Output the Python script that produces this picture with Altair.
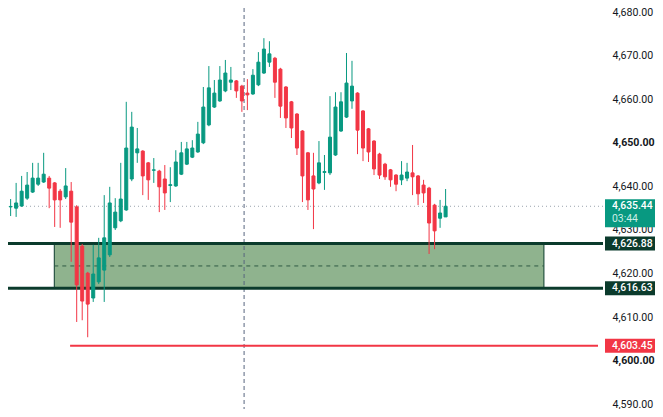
import altair as alt
import pandas as pd

# ---- candle data ----
opens = [4634.1, 4635.3, 4635.0, 4635.5, 4637.3, 4638.7, 4640.5, 4641.0, 4641.9, 4640.8,
         4638.9, 4637.6, 4638.9, 4635.3, 4626.3, 4620.1, 4614.4, 4618.1, 4620.8, 4624.3,
         4630.5, 4632.1, 4634.6, 4641.7, 4647.7, 4648.1, 4645.4, 4643.7, 4643.5, 4641.7,
         4640.2, 4640.1, 4642.8, 4645.1, 4646.7, 4647.9, 4650.0, 4654.1, 4658.2, 4659.6,
         4661.9, 4663.9, 4664.2, 4663.0, 4661.4, 4661.2, 4663.3, 4666.0, 4668.5, 4669.4,
         4666.9, 4662.8, 4659.4, 4656.6, 4652.7, 4647.7, 4642.4, 4640.8, 4643.2, 4643.1,
         4647.2, 4652.7, 4655.9, 4659.6, 4661.4, 4657.3, 4653.2, 4650.4, 4647.4, 4645.1,
         4643.8, 4642.6, 4641.5, 4641.9, 4643.1, 4642.4, 4640.3, 4639.6, 4635.7, 4632.7,
         4633.0]
highs = [4639.2, 4637.1, 4640.8, 4642.4, 4643.3, 4645.4, 4645.4, 4647.7, 4642.4, 4641.0,
         4639.4, 4644.2, 4641.0, 4635.7, 4626.8, 4620.4, 4626.6, 4628.2, 4638.0, 4639.9,
         4637.3, 4645.4, 4659.4, 4657.1, 4653.4, 4648.3, 4645.6, 4646.5, 4643.8, 4644.9,
         4644.4, 4648.3, 4650.2, 4650.2, 4650.6, 4654.8, 4662.8, 4667.6, 4664.4, 4667.6,
         4669.0, 4667.4, 4664.4, 4663.3, 4664.6, 4666.9, 4670.8, 4674.0, 4673.3, 4669.7,
         4667.2, 4663.0, 4659.6, 4656.8, 4652.9, 4647.9, 4647.7, 4650.4, 4647.2, 4660.7,
         4661.6, 4661.6, 4670.6, 4668.8, 4661.6, 4657.5, 4653.4, 4650.6, 4647.7, 4645.4,
         4644.0, 4642.8, 4645.8, 4645.4, 4649.5, 4642.6, 4641.5, 4639.9, 4636.0, 4636.9,
         4639.4]
lows = [4633.4, 4633.2, 4633.0, 4635.3, 4636.9, 4638.5, 4640.1, 4640.8, 4635.0, 4630.7,
        4630.5, 4637.1, 4622.7, 4608.9, 4609.3, 4605.4, 4613.5, 4617.6, 4613.5, 4623.8,
        4630.0, 4631.8, 4634.4, 4641.2, 4645.4, 4638.0, 4636.9, 4640.8, 4634.1, 4634.6,
        4636.4, 4639.9, 4642.6, 4644.9, 4646.5, 4647.7, 4649.7, 4653.8, 4658.0, 4659.4,
        4661.6, 4662.1, 4660.3, 4657.1, 4657.5, 4661.0, 4663.0, 4665.8, 4667.4, 4660.3,
        4655.7, 4653.4, 4651.1, 4647.2, 4636.4, 4634.6, 4630.2, 4640.5, 4639.2, 4642.6,
        4647.0, 4652.5, 4655.7, 4657.8, 4647.4, 4645.8, 4645.6, 4642.6, 4641.7, 4641.5,
        4639.9, 4638.9, 4640.3, 4641.2, 4638.0, 4635.7, 4636.2, 4624.5, 4625.6, 4630.5,
        4633.0]
closes = [4638.5, 4635.4, 4636.2, 4638.9, 4640.3, 4641.9, 4641.9, 4642.8, 4639.6, 4636.9,
          4636.9, 4640.1, 4631.8, 4617.4, 4613.7, 4613.0, 4619.9, 4623.6, 4628.2, 4636.2,
          4634.1, 4637.1, 4648.8, 4653.6, 4648.6, 4642.4, 4641.5, 4643.8, 4639.9, 4638.5,
          4640.4, 4645.6, 4647.7, 4648.6, 4648.8, 4652.0, 4658.2, 4662.6, 4661.4, 4664.4,
          4666.0, 4664.4, 4661.9, 4659.6, 4661.0, 4665.5, 4668.5, 4671.5, 4670.4, 4663.9,
          4658.4, 4655.7, 4653.4, 4648.8, 4642.4, 4636.9, 4639.4, 4645.4, 4643.4, 4651.3,
          4658.2, 4659.4, 4663.7, 4663.0, 4652.9, 4648.8, 4647.9, 4644.0, 4642.6, 4642.2,
          4641.5, 4640.5, 4642.6, 4643.3, 4642.2, 4638.3, 4638.5, 4631.6, 4629.8, 4633.9,
          4635.44]

# ---- levels and drawings ----
zone_high = 4626.88
zone_low = 4616.63
zone_mid = 4621.755
stop_level = 4603.45
last_price = 4635.44
countdown = "03:44"
y_ticks = [4590, 4600, 4610, 4620, 4630, 4640, 4650, 4660, 4670, 4680]
bold_ticks = [4650, 4600]

# bar-index extents of drawings
x_domain = [1.43, 107.68]
y_domain = [4588.94, 4680.92]
zone_start, zone_end = 8.93, 97.86
stop_start = 11.8
crosshair_at = 43.4

GREEN = "#089981"
RED = "#f23645"
DARK = "#0b3b2c"
FONT = "Roboto"
W, H = 595, 401

df = pd.DataFrame({"i": list(range(len(opens))), "open": opens, "high": highs,
                   "low": lows, "close": closes})
df["dir"] = ["up" if c >= o else "down" for o, c in zip(opens, closes)]

xs = alt.Scale(domain=x_domain, nice=False, zero=False)
ys = alt.Scale(domain=y_domain, nice=False, zero=False)
test = " || ".join(f"datum.value == {v}" for v in bold_ticks)
yaxis = alt.Axis(orient="right", values=y_ticks, format=",.2f", ticks=False, domain=False,
                 grid=False, labelPadding=9, labelFontSize=10.6, labelColor="#131722",
                 labelFont=FONT, title=None,
                 labelFontWeight={"condition": {"test": test, "value": "bold"}, "value": "normal"})
col = alt.Color("dir:N", scale=alt.Scale(domain=["up", "down"], range=[GREEN, RED]), legend=None)

zone_df = pd.DataFrame({"x": [zone_start], "x2": [zone_end], "y": [zone_low], "y2": [zone_high],
                        "mid": [zone_mid]})
zone = alt.Chart(zone_df).mark_rect(fill="#8fb38e", stroke=DARK, strokeWidth=1).encode(
    x=alt.X("x:Q", scale=xs, axis=None), x2="x2:Q",
    y=alt.Y("y:Q", scale=ys, axis=yaxis), y2="y2:Q")
zone_midline = alt.Chart(zone_df).mark_rule(color="#2f5a44", strokeDash=[4, 4], strokeWidth=1).encode(
    x=alt.X("x:Q", scale=xs, axis=None), x2="x2:Q",
    y=alt.Y("mid:Q", scale=ys, axis=yaxis))

lines_df = pd.DataFrame({"level": [zone_high, zone_low]})
thick = alt.Chart(lines_df).mark_rule(color=DARK, strokeWidth=3).encode(
    y=alt.Y("level:Q", scale=ys, axis=yaxis))

stop_df = pd.DataFrame({"x": [stop_start], "x2": [x_domain[1]], "level": [stop_level]})
stop = alt.Chart(stop_df).mark_rule(color=RED, strokeWidth=2, clip=True).encode(
    x=alt.X("x:Q", scale=xs, axis=None), x2="x2:Q",
    y=alt.Y("level:Q", scale=ys, axis=yaxis))

last_df = pd.DataFrame({"level": [last_price]})
dotted = alt.Chart(last_df).mark_rule(color="#9aa3ad", strokeDash=[1, 3], strokeWidth=1).encode(
    y=alt.Y("level:Q", scale=ys, axis=yaxis))

cross_df = pd.DataFrame({"x": [crosshair_at]})
cross = alt.Chart(cross_df).mark_rule(color="#56647f", strokeDash=[4, 3], strokeWidth=1).encode(
    x=alt.X("x:Q", scale=xs, axis=None))

wicks = alt.Chart(df).mark_rule(strokeWidth=1, clip=True).encode(
    x=alt.X("i:Q", scale=xs, axis=None),
    y=alt.Y("low:Q", scale=ys, axis=yaxis), y2="high:Q", color=col)
bodies = alt.Chart(df).mark_bar(width=3, strokeWidth=1, clip=True).encode(
    x=alt.X("i:Q", scale=xs, axis=None),
    y=alt.Y("open:Q", scale=ys, axis=yaxis), y2="close:Q", color=col, stroke=col)

box_df = pd.DataFrame({"level": [zone_high, zone_low, stop_level],
                       "bg": ["z", "z", "s"]})
boxes = alt.Chart(box_df).mark_rule(strokeWidth=14, strokeCap="butt").encode(
    x=alt.value(W + 2), x2=alt.value(W + 56),
    y=alt.Y("level:Q", scale=ys, axis=yaxis),
    color=alt.Color("bg:N", scale=alt.Scale(domain=["z", "s"], range=[DARK, RED]), legend=None))
box_text = alt.Chart(box_df).mark_text(align="left", baseline="middle", color="white",
                                       fontSize=10.4, font=FONT, fontWeight=500).encode(
    x=alt.value(W + 9), y=alt.Y("level:Q", scale=ys, axis=yaxis),
    text=alt.Text("level:Q", format=",.2f"))

last_box = alt.Chart(last_df).mark_rule(strokeWidth=28, strokeCap="butt", color=GREEN, yOffset=7).encode(
    x=alt.value(W + 2), x2=alt.value(W + 56),
    y=alt.Y("level:Q", scale=ys, axis=yaxis))
last_text = alt.Chart(last_df).mark_text(align="left", baseline="middle", color="white",
                                         fontSize=10.4, font=FONT, fontWeight=500).encode(
    x=alt.value(W + 9), y=alt.Y("level:Q", scale=ys, axis=yaxis),
    text=alt.Text("level:Q", format=",.2f"))
cd_df = pd.DataFrame({"level": [last_price], "t": [countdown]})
cd_text = alt.Chart(cd_df).mark_text(align="left", baseline="middle", color="#cdeee6",
                                     fontSize=10.4, font=FONT, yOffset=13).encode(
    x=alt.value(W + 9), y=alt.Y("level:Q", scale=ys, axis=yaxis), text="t:N")

chart = alt.layer(zone, zone_midline, dotted, cross, thick, stop, wicks, bodies,
                  boxes, box_text, last_box, last_text, cd_text).resolve_scale(
    color="independent").properties(
    width=W, height=H,
    autosize=alt.AutoSizeParams(type="none"),
    padding={"left": 0, "top": 0, "right": 52, "bottom": 0},
    background="white",
).configure_view(stroke=None)

chart.save("out.html", embed_options={"renderer": "svg", "actions": False})
